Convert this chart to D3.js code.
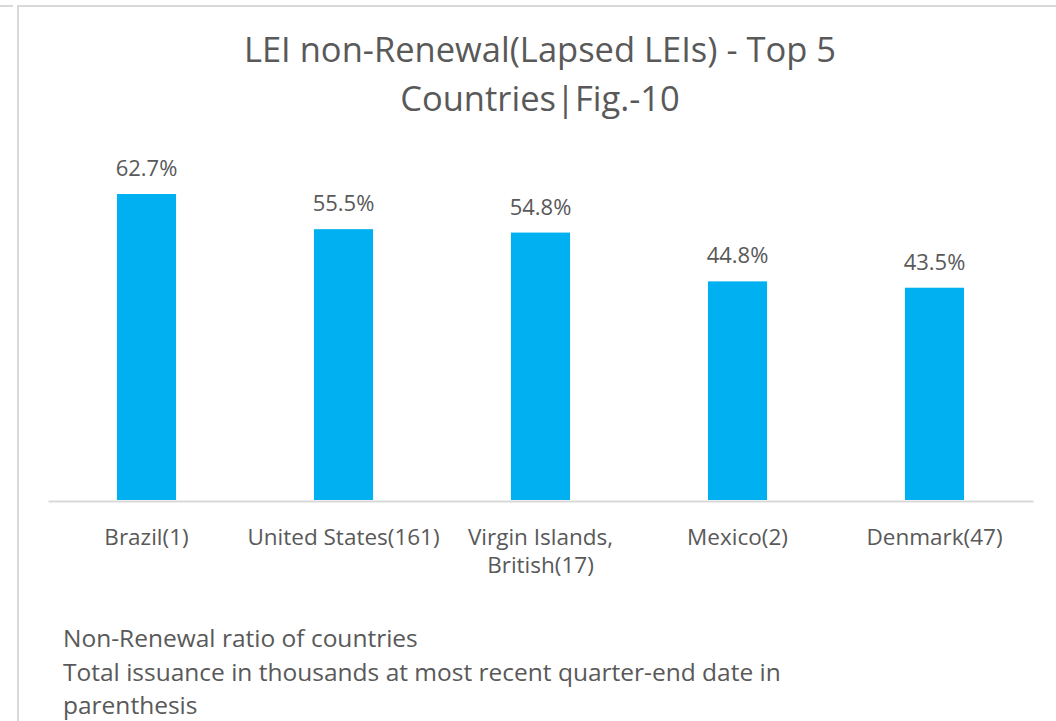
<!DOCTYPE html>
<html>
<head>
<meta charset="utf-8">
<script src="https://cdn.jsdelivr.net/npm/d3@7"></script>
<style>
  body { margin: 0; background: #fff; }
  text { font-family: "Open Sans", sans-serif; fill: #595959; }
</style>
</head>
<body>
<div id="chart"></div>
<script>
(function() {
  var width = 1056, height = 721;

  // chart data
  var countries = ["Brazil(1)", "United States(161)", "Virgin Islands, British(17)", "Mexico(2)", "Denmark(47)"];
  var labelLines = [["Brazil(1)"], ["United States(161)"], ["Virgin Islands,", "British(17)"], ["Mexico(2)"], ["Denmark(47)"]];
  var ratios = [62.7, 55.5, 54.8, 44.8, 43.5];
  var titleLines = ["LEI non-Renewal(Lapsed LEIs) - Top 5", "Countries|Fig.-10"];
  var noteLines = ["Non-Renewal ratio of countries", "Total issuance in thousands at most recent quarter-end date in", "parenthesis"];

  var svg = d3.select("#chart")
    .append("svg")
    .attr("width", width)
    .attr("height", height);

  // panel borders
  svg.append("line")
    .attr("x1", 0).attr("x2", 13).attr("y1", 6).attr("y2", 6)
    .attr("stroke", "#d9d9d9").attr("stroke-width", 2);
  svg.append("line")
    .attr("x1", 17).attr("x2", width).attr("y1", 6).attr("y2", 6)
    .attr("stroke", "#d9d9d9").attr("stroke-width", 2);
  svg.append("line")
    .attr("x1", 18).attr("x2", 18).attr("y1", 6).attr("y2", height)
    .attr("stroke", "#d9d9d9").attr("stroke-width", 2);

  var xPositionScale = d3.scaleBand()
    .domain(countries)
    .range([48, 1033])
    .paddingInner(0.7)
    .paddingOuter(0.35);

  var yPositionScale = d3.scaleLinear()
    .domain([0, 70])
    .range([500, 158.4]);

  // title
  svg.append("text")
    .attr("x", 540)
    .attr("y", 62)
    .attr("text-anchor", "middle")
    .attr("font-size", "34.5px")
    .selectAll("tspan")
    .data(titleLines)
    .enter().append("tspan")
    .attr("x", 540)
    .attr("dy", function(d, i) { return i == 0 ? 0 : 49 })
    .text(function(d) { return d });

  svg.selectAll(".bar")
    .data(ratios)
    .enter().append("rect")
    .attr("class", "bar")
    .attr("x", function(d, i) { return xPositionScale(countries[i]) })
    .attr("width", xPositionScale.bandwidth())
    .attr("y", function(d) { return yPositionScale(d) })
    .attr("height", function(d) { return yPositionScale(0) - yPositionScale(d) })
    .attr("fill", "#00b0f0");

  svg.selectAll(".value-label")
    .data(ratios)
    .enter().append("text")
    .attr("class", "value-label")
    .attr("x", function(d, i) { return xPositionScale(countries[i]) + xPositionScale.bandwidth() / 2 })
    .attr("y", function(d) { return yPositionScale(d) - 18 })
    .attr("text-anchor", "middle")
    .attr("font-size", "22px")
    .text(function(d) { return d.toFixed(1) + "%" });

  // x axis
  var xAxis = d3.axisBottom(xPositionScale).tickSize(0).tickFormat("");
  var axisG = svg.append("g")
    .attr("class", "axis x-axis")
    .attr("transform", "translate(0,501)")
    .call(xAxis);
  axisG.select(".domain")
    .attr("stroke", "#d9d9d9")
    .attr("stroke-width", 2);

  axisG.selectAll(".tick")
    .append("text")
    .attr("text-anchor", "middle")
    .attr("font-size", "22.5px")
    .attr("y", 44)
    .each(function(d, i) {
      var lines = labelLines[i];
      d3.select(this).selectAll("tspan")
        .data(lines)
        .enter().append("tspan")
        .attr("x", 0)
        .attr("dy", function(l, j) { return j == 0 ? 0 : 28 })
        .text(function(l) { return l });
    });

  // notes below chart
  svg.selectAll(".note")
    .data(noteLines)
    .enter().append("text")
    .attr("class", "note")
    .attr("x", 63)
    .attr("y", function(d, i) { return 647 + i * 33.5 })
    .attr("font-size", "24.5px")
    .text(function(d) { return d });
})();
</script>
</body>
</html>
